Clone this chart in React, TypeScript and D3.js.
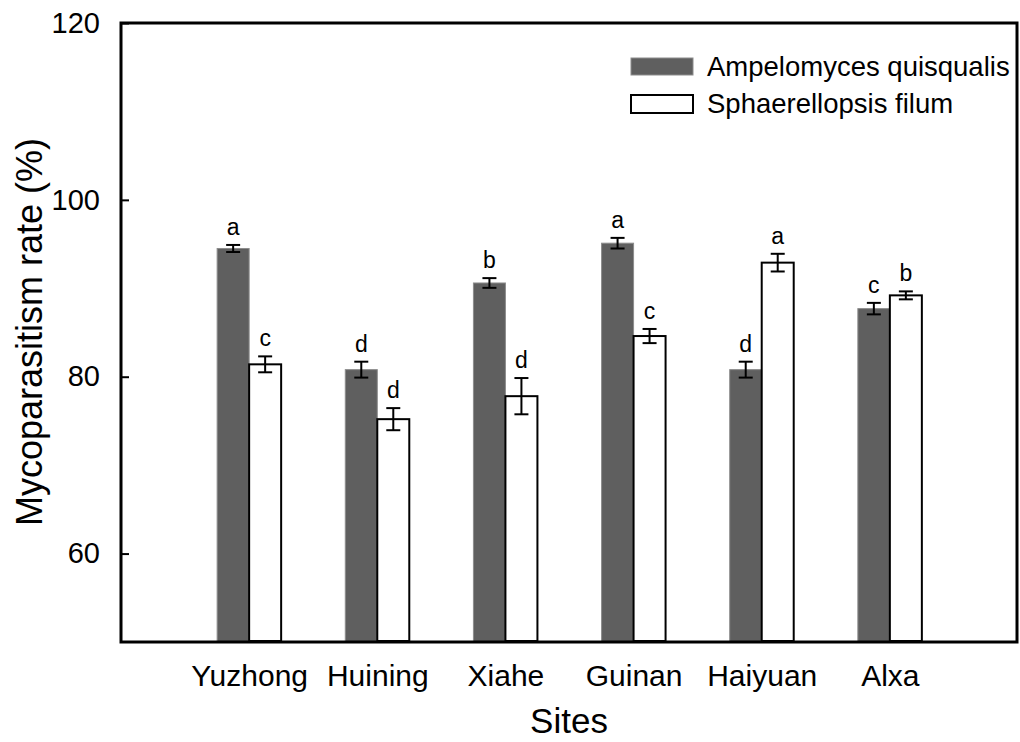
import React, { useEffect, useRef } from 'react';
import * as d3 from 'd3';

// sites on the x axis
const sites = ['Yuzhong', 'Huining', 'Xiahe', 'Guinan', 'Haiyuan', 'Alxa'];
// mycoparasitism rate (%) and standard errors
const ampelomyces = [94.5, 80.8, 90.6, 95.1, 80.8, 87.7];
const ampelomycesErr = [0.4, 0.9, 0.55, 0.6, 0.9, 0.65];
const ampelomycesLetters = ['a', 'd', 'b', 'a', 'd', 'c'];
const sphaerellopsis = [81.4, 75.2, 77.8, 84.6, 92.9, 89.2];
const sphaerellopsisErr = [0.9, 1.25, 2.05, 0.8, 1.0, 0.45];
const sphaerellopsisLetters = ['c', 'd', 'd', 'c', 'a', 'b'];
const yTicks = [60, 80, 100, 120];
const seriesNames = ['Ampelomyces quisqualis', 'Sphaerellopsis filum'];

const FONT = '"Liberation Sans", Arial, sans-serif';
const W = 1020;
const H = 742;
const margin = { top: 23, right: 2, bottom: 100, left: 121 };
const barW = 32;
const capW = 14;
const darkFill = '#5f5f5f';

const App = () => {
  const yAxisRef = useRef<SVGGElement>(null);
  const xAxisRef = useRef<SVGGElement>(null);

  const plotW = W - margin.left - margin.right;
  const plotH = H - margin.top - margin.bottom;

  const x = d3.scalePoint<string>().domain(sites).range([0, plotW]).padding(1);
  const y = d3.scaleLinear().domain([50, 120]).range([plotH, 0]);

  // axes drawn by d3, then restyled
  useEffect(() => {
    if (yAxisRef.current) {
      const g = d3.select(yAxisRef.current);
      g.call(d3.axisLeft(y).tickValues(yTicks).tickSize(-8).tickPadding(21).tickFormat(d3.format('d')));
      g.select('.domain').remove();
      g.selectAll('.tick line').attr('stroke', '#000').attr('stroke-width', 2);
      g.selectAll('.tick text')
        .attr('font-size', 29)
        .attr('font-family', FONT)
        .attr('fill', '#000');
    }
    if (xAxisRef.current) {
      const g = d3.select(xAxisRef.current);
      g.call(d3.axisBottom(x).tickSize(0).tickPadding(23));
      g.select('.domain').remove();
      g.selectAll('.tick text')
        .attr('font-size', 30)
        .attr('font-family', FONT)
        .attr('fill', '#000');
    }
  }, [x, y]);

  return (
    <svg width={W} height={H} style={{ position: 'absolute', left: 0, top: 0, background: '#fff' }}>
      <g transform={`translate(${margin.left},${margin.top})`}>
        {sites.map((s, i) => {
          const cx = x(s) as number;
          const v1 = ampelomyces[i];
          const e1 = ampelomycesErr[i];
          const v2 = sphaerellopsis[i];
          const e2 = sphaerellopsisErr[i];
          return (
            <g key={s}>
              {/* dark bar */}
              <rect
                x={cx - barW}
                y={y(v1)}
                width={barW}
                height={plotH - y(v1)}
                fill={darkFill}
                stroke="#8c8c8c"
                strokeWidth={1}
              />
              {/* white bar */}
              <rect
                x={cx}
                y={y(v2)}
                width={barW}
                height={plotH - y(v2) - 1}
                fill="#fff"
                stroke="#000"
                strokeWidth={2}
              />
              {[
                { c: cx - barW / 2, v: v1, e: e1, l: ampelomycesLetters[i] },
                { c: cx + barW / 2, v: v2, e: e2, l: sphaerellopsisLetters[i] },
              ].map((d, k) => (
                <g key={k} stroke="#000" strokeWidth={2}>
                  <line x1={d.c} x2={d.c} y1={y(d.v + d.e)} y2={y(d.v - d.e)} />
                  <line x1={d.c - capW / 2} x2={d.c + capW / 2} y1={y(d.v + d.e)} y2={y(d.v + d.e)} />
                  <line x1={d.c - capW / 2} x2={d.c + capW / 2} y1={y(d.v - d.e)} y2={y(d.v - d.e)} />
                  <text
                    x={d.c}
                    y={y(d.v + d.e) - 10}
                    textAnchor="middle"
                    fontSize={23}
                    fontFamily={FONT}
                    stroke="none"
                    fill="#000"
                  >
                    {d.l}
                  </text>
                </g>
              ))}
            </g>
          );
        })}

        <g ref={yAxisRef}></g>
        <g ref={xAxisRef} transform={`translate(0,${plotH})`}></g>

        {/* frame */}
        <rect x={0} y={0} width={plotW - 1} height={plotH} fill="none" stroke="#000" strokeWidth={3} />

        {/* legend */}
        <g transform="translate(510,35)">
          <rect x={0} y={0} width={62} height={17} fill={darkFill} stroke="#8c8c8c" strokeWidth={1} />
          <text x={76} y={18} fontSize={27.5} fontFamily={FONT} fill="#000">{seriesNames[0]}</text>
          <rect x={0} y={37} width={62} height={18} fill="#fff" stroke="#000" strokeWidth={2} />
          <text x={76} y={55} fontSize={27.5} fontFamily={FONT} fill="#000">{seriesNames[1]}</text>
        </g>
      </g>

      {/* axis titles */}
      <text x={569} y={733} textAnchor="middle" fontSize={35} fontFamily={FONT} fill="#000">Sites</text>
      <text
        transform="translate(42,332) rotate(-90)"
        textAnchor="middle"
        fontSize={36}
        fontFamily={FONT}
        fill="#000"
      >
        Mycoparasitism rate (%)
      </text>
    </svg>
  );
};

export default App;
